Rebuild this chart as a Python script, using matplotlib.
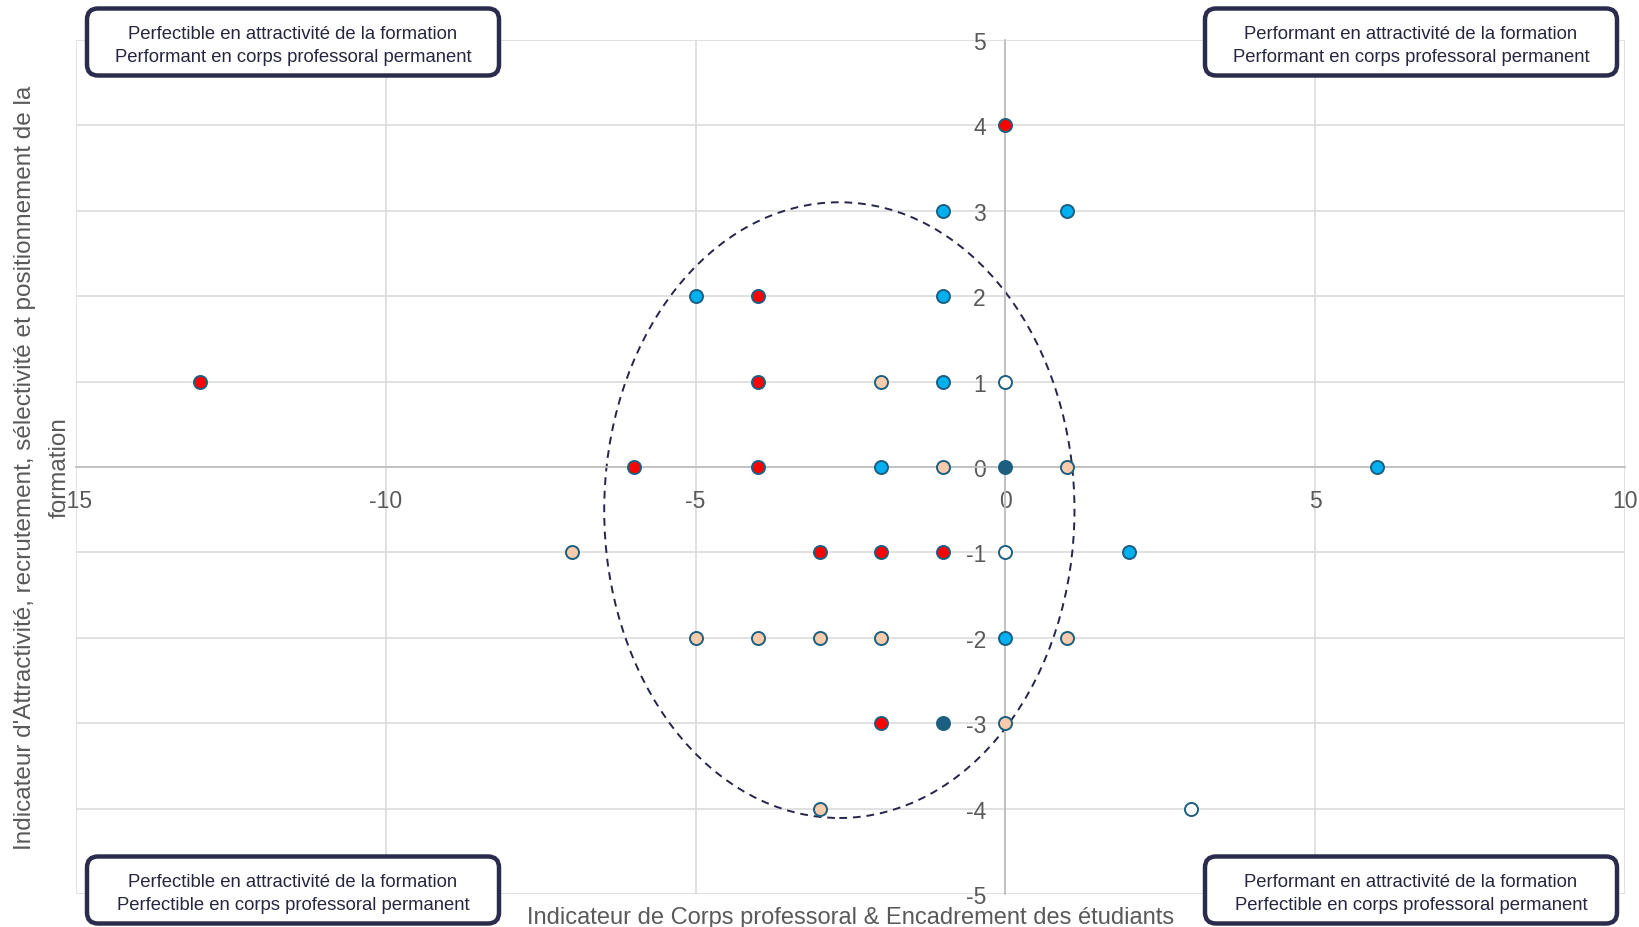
import matplotlib
matplotlib.use("Agg")
import matplotlib.pyplot as plt
from matplotlib.patches import Ellipse, FancyBboxPatch

plt.rcParams['font.family'] = ['Liberation Sans', 'DejaVu Sans']
plt.rcParams['axes.unicode_minus'] = False

# points by colour group (x = corps professoral, y = attractivite)
red_x = [0, -4, -13, -4, -6, -4, -3, -2, -1, -2]
red_y = [4, 2, 1, 1, 0, 0, -1, -1, -1, -3]
blue_x = [-1, 1, -5, -1, -1, -2, 6, 2, 0]
blue_y = [3, 3, 2, 2, 1, 0, 0, -1, -2]
peach_x = [-2, -1, 1, -7, -5, -4, -3, -2, 1, 0, -3]
peach_y = [1, 0, 0, -1, -2, -2, -2, -2, -2, -3, -4]
white_x = [0, 0, 3]
white_y = [1, -1, -4]
dark_x = [0, -1]
dark_y = [0, -3]

# dashed ellipse around the core group
ell_center = (-2.68, -0.505)
ell_width = 7.59
ell_height = 7.21

x_ticks = [-15, -10, -5, 0, 5, 10]
y_ticks = [5, 4, 3, 2, 1, 0, -1, -2, -3, -4, -5]

xlabel = "Indicateur de Corps professoral & Encadrement des étudiants"
ylabel = "Indicateur d'Attractivité, recrutement, sélectivité et positionnement de la\nformation"

quadrants = [
    ("Perfectible en attractivité de la formation\nPerformant en corps professoral permanent", 293, 43),
    ("Performant en attractivité de la formation\nPerformant en corps professoral permanent", 1411, 43),
    ("Perfectible en attractivité de la formation\nPerfectible en corps professoral permanent", 293, 891),
    ("Performant en attractivité de la formation\nPerfectible en corps professoral permanent", 1411, 891),
]

W, H = 1639, 928
fig = plt.figure(figsize=(W / 100, H / 100), dpi=100)
ax = fig.add_axes([76 / W, 1 - 895 / H, (1625 - 76) / W, (895 - 41) / H])

ax.set_xlim(-15, 10)
ax.set_ylim(-5, 5)
ax.set_xticks(x_ticks)
ax.set_yticks(y_ticks)
ax.grid(True, color='#D9D9D9', lw=1.1, zorder=0)
ax.set_axisbelow(True)

for side in ['top', 'right']:
    ax.spines[side].set_visible(False)
ax.spines['left'].set_position(('data', 0))
ax.spines['bottom'].set_position(('data', 0))
for side in ['left', 'bottom']:
    ax.spines[side].set_color('#BFBFBF')
    ax.spines[side].set_linewidth(1.3)

ax.tick_params(axis='x', length=0, pad=16, labelsize=16.5, labelcolor='#595959')
ax.tick_params(axis='y', length=0, pad=14, labelsize=16.5, labelcolor='#595959')

ax.set_xlabel(xlabel, fontsize=17, color='#595959', va='center')
ax.xaxis.set_label_coords(0.5, (895 - 918) / (895 - 41))
ax.set_ylabel(ylabel, fontsize=17.5, color='#595959', va='center', ha='center',
              linespacing=1.75)
ax.yaxis.set_label_coords((42 - 76) / (1625 - 76), 0.5)

ell = Ellipse(ell_center, ell_width, ell_height, fill=False, ec='#25254A',
              lw=1.4, ls=(0, (4, 3)), zorder=2)
ax.add_patch(ell)

edge = '#1D5F80'
ms = 88
ew = 1.4
ax.scatter(dark_x, dark_y, s=ms, c='#1B5E80', edgecolors=edge, linewidths=ew, zorder=3)
ax.scatter(white_x, white_y, s=ms, c='white', edgecolors=edge, linewidths=ew, zorder=3)
ax.scatter(peach_x, peach_y, s=ms, c='#F8CBAD', edgecolors=edge, linewidths=ew, zorder=3)
ax.scatter(blue_x, blue_y, s=ms, c='#00B0F0', edgecolors=edge, linewidths=ew, zorder=3)
ax.scatter(red_x, red_y, s=ms, c='#FF0000', edgecolors=edge, linewidths=ew, zorder=3)

# quadrant boxes, in inches from the bottom-left of the figure
bw, bh = 4.12, 0.67
for txt, cx, cy in quadrants:
    x0 = cx / 100 - bw / 2
    y0 = (H - cy) / 100 - bh / 2
    box = FancyBboxPatch((x0, y0), bw, bh, boxstyle='round,pad=0,rounding_size=0.11',
                         transform=fig.dpi_scale_trans, fc='white', ec='#2B2B4D',
                         lw=3.2, zorder=10)
    fig.add_artist(box)
    fig.text(cx / W, 1 - (cy + 3) / H, txt, ha='center', va='center', fontsize=13.3,
             color='#262640', linespacing=1.5, zorder=11)

fig.savefig("out.png", dpi=100)
